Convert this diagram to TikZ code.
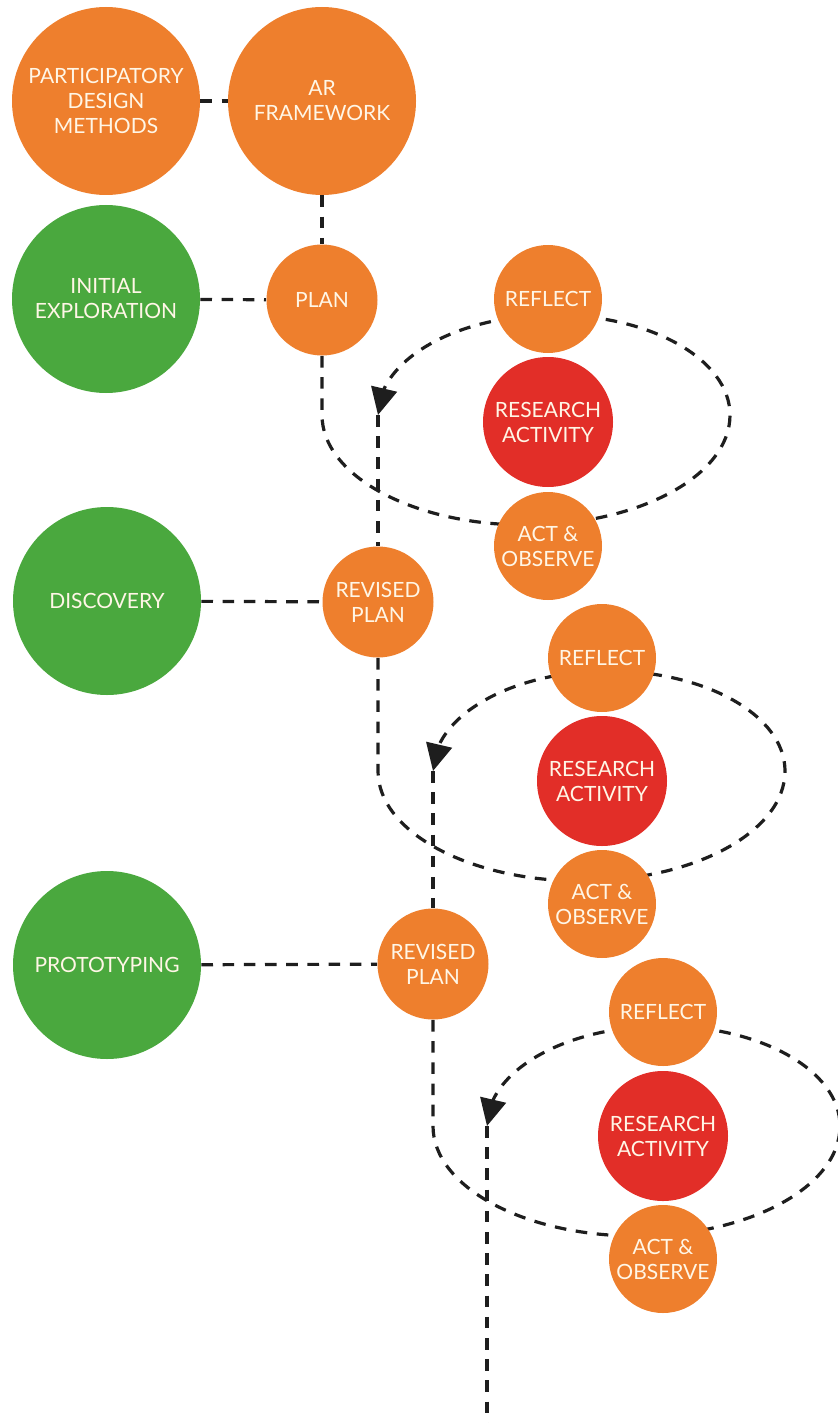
\documentclass[tikz,border=0pt]{standalone}
\usepackage{fontspec}
\setmainfont{Lato}
\usetikzlibrary{arrows.meta,bending}
\definecolor{ar orange}{RGB}{238,127,45}
\definecolor{ar green}{RGB}{74,168,62}
\definecolor{ar red}{RGB}{226,46,40}
\definecolor{label cream}{RGB}{255,246,230}
\definecolor{link gray}{RGB}{30,30,30}
\pgfdeclarelayer{links}
\pgfsetlayers{links,main}

\begin{document}
\begin{tikzpicture}[x=0.5pt,y=0.5pt,
  bubble/.style={circle, inner sep=0pt, align=center, text=label cream,
                 font=\fontsize{10.5}{12.5}\selectfont},
  bigorange/.style={bubble, minimum size=94pt, fill=ar orange},
  biggreen/.style={bubble, minimum size=94pt, fill=ar green},
  plannode/.style={bubble, minimum size=55.5pt, fill=ar orange},
  stage/.style={bubble, minimum size=54pt, fill=ar orange},
  activity/.style={bubble, minimum size=65pt, fill=ar red},
  link/.style={draw=link gray, line width=1.6pt, dash pattern=on 5.8pt off 4.8pt},
  looptip/.style={-{Triangle[length=13.5pt,width=13pt]}}
]
\clip (0,0) rectangle (837,-1423);

% framework and phases
\node[bigorange] (pdm) at (106,-101) {PARTICIPATORY\\DESIGN\\METHODS};
\node[bigorange] (arf) at (322,-101) {AR\\FRAMEWORK};
\node[biggreen] (init) at (106,-299) {INITIAL\\EXPLORATION};
\node[biggreen] (disc) at (107,-601) {DISCOVERY};
\node[biggreen] (proto) at (107,-965) {PROTOTYPING};

% plans
\node[plannode] (plan) at (322,-300) {PLAN};
\node[plannode] (rp1) at (378,-602) {REVISED\\PLAN};
\node[plannode] (rp2) at (433,-964) {REVISED\\PLAN};

% cycle 1
\node[stage] (refl1) at (548,-299) {REFLECT};
\node[activity] (res1) at (548,-422) {RESEARCH\\ACTIVITY};
\node[stage] (act1) at (548,-546) {ACT \&\\OBSERVE};

% cycle 2
\node[stage] (refl2) at (602,-658) {REFLECT};
\node[activity] (res2) at (602,-781) {RESEARCH\\ACTIVITY};
\node[stage] (act2) at (602,-904) {ACT \&\\OBSERVE};

% cycle 3
\node[stage] (refl3) at (663,-1012) {REFLECT};
\node[activity] (res3) at (663,-1136) {RESEARCH\\ACTIVITY};
\node[stage] (act3) at (663,-1259) {ACT \&\\OBSERVE};

\coordinate (endpt) at (487,-1423);

\begin{pgfonlayer}{links}
  \draw[link] (pdm) -- (arf);
  \draw[link] (arf) -- (plan);
  \draw[link] (init) -- (plan);
  \draw[link] (disc) -- (rp1);
  \draw[link] (proto) -- (rp2);

  % spiral of cycle 1
  \draw[link, looptip] (plan.south) -- (322,-415)
    arc[start angle=180, end angle=360, x radius=102pt, y radius=55pt]
    arc[start angle=0, end angle=180, x radius=88pt, y radius=50pt]
    coordinate (tip1);
  \draw[link] (tip1) -- (rp1);

  % spiral of cycle 2
  \draw[link, looptip] (rp1.south) -- (378,-771)
    arc[start angle=180, end angle=360, x radius=101.75pt, y radius=55pt]
    arc[start angle=0, end angle=180, x radius=88pt, y radius=50pt]
    coordinate (tip2);
  \draw[link] (tip2) -- (rp2);

  % spiral of cycle 3
  \draw[link, looptip] (rp2.south) -- (433,-1126)
    arc[start angle=180, end angle=360, x radius=101.75pt, y radius=55pt]
    arc[start angle=0, end angle=180, x radius=88.25pt, y radius=50pt]
    coordinate (tip3);
  \draw[link] (tip3) -- (endpt);
\end{pgfonlayer}
\end{tikzpicture}
\end{document}
